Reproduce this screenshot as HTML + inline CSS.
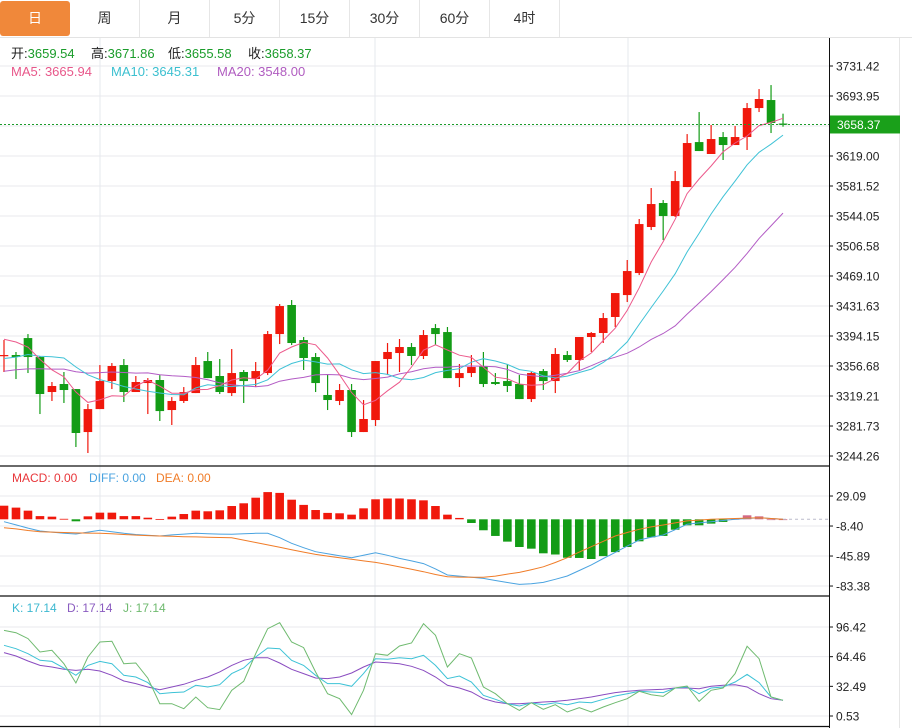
<!DOCTYPE html>
<html><head><meta charset="utf-8">
<style>
html,body{margin:0;padding:0;background:#fff;width:912px;height:728px;overflow:hidden;font-family:"Liberation Sans","Noto Sans CJK SC",sans-serif;}
#tabs{position:absolute;left:0;top:0;width:912px;height:37px;border-bottom:1px solid #e3e3e3;}
.tab{position:absolute;top:0;height:37px;width:70px;line-height:37px;text-align:center;font-size:14px;color:#333;border-right:1px solid #e6e6e6;box-sizing:border-box;}
.tab.on{background:#f0883a;color:#fff;border-radius:3px;top:1px;height:35px;line-height:35px;border-right:none;}
svg{position:absolute;left:0;top:0;}
</style></head><body>
<div id="tabs">
<div class="tab on" style="left:0">日</div>
<div class="tab" style="left:70px">周</div>
<div class="tab" style="left:140px">月</div>
<div class="tab" style="left:210px">5分</div>
<div class="tab" style="left:280px">15分</div>
<div class="tab" style="left:350px">30分</div>
<div class="tab" style="left:420px">60分</div>
<div class="tab" style="left:490px">4时</div>
</div>
<svg id="chart" width="912" height="728" viewBox="0 0 912 728"></svg>
<script>
const opens=[3369.2,3370.4,3391.6,3367.9,3324.2,3334.2,3327.9,3274.2,3302.9,3337.9,3357.9,3324.2,3335.4,3339.2,3301.7,3313,3322.9,3362.9,3344.2,3322.9,3349.2,3340.4,3347.9,3396.6,3432.9,3389.1,3367.9,3320.5,3313,3326.7,3274.2,3289.2,3365.4,3372.9,3380.4,3369.2,3404.1,3399.1,3341.6,3347.9,3356.7,3336.7,3337.9,3334.2,3315.4,3350.4,3337.9,3370.4,3364.2,3392.9,3397.9,3417.9,3445.3,3472.8,3530.3,3560.3,3544,3580.2,3636.4,3621.5,3642.7,3632.7,3642.7,3678.9,3688.9,3659.54];
const highs=[3389.2,3374.2,3396.6,3369.2,3336.7,3349.2,3327.9,3309.2,3357.9,3360.4,3365.4,3344.2,3341.6,3345.4,3317.9,3330.4,3367.9,3374.2,3365.4,3377.9,3351.7,3361.7,3400.4,3434.1,3439.1,3392.9,3372.9,3346.7,3334.2,3334.2,3314.2,3362.9,3385.4,3390.4,3385.4,3401.6,3409.1,3405.4,3359.2,3370.4,3374.2,3347.9,3359.2,3345.4,3349.2,3352.9,3379.1,3375.4,3392.9,3399.1,3422.9,3447.8,3489.1,3540.3,3579,3564,3600.2,3646.4,3673.9,3657.7,3648.9,3656.4,3685.2,3702.6,3707.6,3671.86];
const lows=[3349.2,3340.4,3347.9,3296.7,3313,3310.5,3255.5,3248,3302.9,3327.9,3311.7,3324.2,3296.7,3288,3283,3310.5,3322.9,3341.6,3321.7,3319.2,3310.5,3330.4,3345.4,3384.1,3382.9,3351.7,3324.2,3301.7,3307.9,3268,3274.2,3281.7,3345.4,3349.2,3357.9,3365.4,3382.9,3341.6,3330.4,3342.9,3330.4,3332.9,3324.2,3315.4,3311.7,3326.7,3322.9,3361.7,3351.7,3374.2,3385.4,3405.4,3436.6,3470.3,3526.5,3514,3542.8,3580.2,3625.2,3621.5,3614,3632.7,3626.5,3673.9,3647.7,3655.58];
const closes=[3370.4,3367.9,3367.9,3321.7,3331.7,3326.7,3273,3302.9,3337.9,3356.7,3324.2,3336.7,3339.2,3300.4,3313,3324.2,3357.9,3341.6,3324.2,3347.9,3337.9,3350.4,3396.6,3431.6,3385.4,3366.7,3335.4,3314.2,3326.7,3274.2,3290.5,3362.9,3374.2,3380.4,3369.2,3395.4,3396.6,3341.6,3347.9,3355.4,3334.2,3334.2,3331.7,3315.4,3347.9,3337.9,3371.7,3364.2,3392.9,3397.9,3416.6,3447.8,3475.3,3534,3559,3544,3587.7,3635.2,3625.2,3640.2,3632.7,3642.7,3678.9,3690.2,3660.2,3658.37];
const historyCloses=[3330,3345,3320,3338,3328,3340,3335,3325,3342,3337,3350,3335,3345,3338,3342,3385,3400,3398,3397];
const macdHist=[17,14.6,10.8,4,3.3,0.6,-2.5,3.7,8.3,8.3,4,4,2,0.4,3.3,6.6,10.8,10,11.2,16.6,20,27,34,33,24.5,18,11.6,8,7.5,5.8,13.7,25,26,26,25,23.7,16.6,5.8,1.7,-4.6,-13.7,-20.8,-27.9,-34.6,-36.7,-42.5,-44,-48,-48.3,-49.6,-46,-41,-34.6,-27.5,-22.5,-20.8,-13,-7.5,-7.5,-5.4,-3.3,0.5,5,3.7,0,0];
const diffVals=[-3,-7,-11,-14.6,-16,-17.5,-18.4,-16,-13.8,-15.5,-17.5,-19,-20,-20.9,-19.5,-18.5,-17.5,-18,-18.5,-18.7,-18,-17.5,-17.5,-23,-30,-35.5,-40.5,-43,-45.5,-48,-45,-41.7,-45,-48.8,-52,-55.4,-62,-69.6,-71,-72.5,-73.8,-76.5,-79,-81.3,-80.5,-78.8,-75,-70.9,-64,-57,-49,-41.3,-33.5,-25.9,-22.5,-19.6,-13,-6.3,-4.5,-3,-1.5,0,1,2,1,0];
const deaVals=[-10.5,-12,-14,-15.5,-16,-16.5,-17,-17.3,-17.5,-18,-19,-19.8,-20.4,-20.9,-21.3,-21.7,-22,-22.4,-22.7,-23,-26,-29,-32,-35,-38,-41,-43.8,-46,-48,-50,-52,-53.8,-56.5,-59.5,-62.5,-65.5,-69,-71.7,-72.2,-72.5,-72.5,-71,-68.5,-66.3,-63,-59.3,-54,-48,-41,-34.2,-27.5,-20.9,-16.5,-12.5,-9.5,-7.1,-4.5,-2,-1,0,0.5,1,1.5,2,1,0];
const kVals=[76.7,73.1,67.7,60.5,59.4,52.3,44.4,55.1,59.4,56.9,44.4,42.6,36.5,24.6,25.7,26.4,33.6,31.8,34.3,46.2,52.3,64.1,73.8,73.1,60.5,55.1,44.4,35.4,35.4,32.5,46.2,62.3,61.6,63.4,62.3,65.9,55.1,40.8,43.6,37.2,22.8,18.5,13.8,11.3,14.6,12.7,14.9,12.7,15.6,14.9,18.5,22.1,24.6,27.1,26.4,25.7,30.7,31.8,24.6,30.7,31.8,37.2,45.4,36.5,21,17.4];
const dVals=[68.8,65.2,59.8,55.1,53.3,50.8,49.7,50.8,49,44.4,38.2,35.4,31.8,28.9,31.8,34.7,39,42.6,48,55.1,60.5,63.4,63.4,57.6,50.8,46.2,41.5,40.8,42.6,46.9,53.3,58.7,58,56.9,54.1,49.7,42.6,33.6,30.7,26.4,19.2,15.6,13.8,13.8,14.6,15.6,16.3,17.4,19.2,21,23.5,25.7,27.1,28.2,28.9,29.3,30.7,30.7,30,32.5,33.6,34.3,31.8,24.6,19.2,17.4];
const jVals=[92.8,90.3,83.9,69.5,71.3,56.9,36.1,64.1,80.3,81,56.9,57.6,41.4,13.8,13.8,8.4,21,9.5,7.4,28.2,37.9,67.7,94.6,101.1,80.3,74.2,47.9,24.6,19.2,2,28.2,67.7,65.9,76,79.2,100,87.5,53.3,67.7,63,31.8,24.6,13.8,6.6,14.9,7.7,12.7,4.8,9.5,4.8,10.2,14.9,19.2,27.1,23.5,21.7,30.7,32.9,16.3,28.2,30.7,46.2,75.6,62.3,21,17.4];
const priceTicks=[3731.42,3693.95,3619.00,3581.52,3544.05,3506.58,3469.10,3431.63,3394.15,3356.68,3319.21,3281.73,3244.26];
const priceGrid=[3731.42,3693.95,3656.47,3619.00,3581.52,3544.05,3506.58,3469.10,3431.63,3394.15,3356.68,3319.21,3281.73,3244.26];
const macdTicks=[29.09,-8.40,-45.89,-83.38];
const kdjTicks=[96.42,64.46,32.49,0.53];
const lastPrice=3658.37;

const NS='http://www.w3.org/2000/svg';
const svg=document.getElementById('chart');
const X=i=>4+i*11.985;
const PY=p=>156-(p-3619)*0.8006;
const MY=v=>519.3-v*0.8003;
const KY=v=>716-(v-0.53)*0.928;
const RIGHT=829;
function mk(tag,attrs,parent){const e=document.createElementNS(NS,tag);for(const k in attrs)e.setAttribute(k,attrs[k]);(parent||svg).appendChild(e);return e;}
function txt(s,x,y,fill,size,parent){const t=mk('text',{x:x,y:y,fill:fill,'font-size':size||12,'font-family':'"Liberation Sans","Noto Sans CJK SC",sans-serif'},parent);t.textContent=s;return t;}

// grids
const grid=mk('g',{});


[100,375,628].forEach(x=>mk('line',{x1:x,x2:x,y1:38,y2:726,stroke:'#e6e8ee','stroke-width':1},grid));
priceGrid.forEach(p=>mk('line',{x1:0,x2:RIGHT,y1:PY(p),y2:PY(p),stroke:'#e8e8ee'},grid));
macdTicks.forEach(v=>mk('line',{x1:0,x2:RIGHT,y1:MY(v),y2:MY(v),stroke:'#e8e8ee'},grid));
kdjTicks.forEach(v=>mk('line',{x1:0,x2:RIGHT,y1:KY(v),y2:KY(v),stroke:'#e8e8ee'},grid));
// frame
const frame=mk('g',{});


mk('line',{x1:0,x2:RIGHT,y1:466,y2:466,stroke:'#111','stroke-width':1.2},frame);
mk('line',{x1:0,x2:RIGHT,y1:596,y2:596,stroke:'#111','stroke-width':1.2},frame);
mk('line',{x1:0,x2:RIGHT,y1:726.5,y2:726.5,stroke:'#111','stroke-width':1.2},frame);
mk('line',{x1:RIGHT+0.5,x2:RIGHT+0.5,y1:38,y2:728,stroke:'#111','stroke-width':1},frame);
mk('line',{x1:899.5,x2:899.5,y1:38,y2:728,stroke:'#e6e6e6','stroke-width':1},frame);

// moving averages
const all=historyCloses.concat(closes);
function ma(n){const out=[];for(let i=0;i<closes.length;i++){const j=i+historyCloses.length;let s=0;for(let k=j-n+1;k<=j;k++)s+=all[k];out.push(s/n);}return out;}
function poly(vals,yf,color,name,w){const pts=vals.map((v,i)=>X(i).toFixed(1)+','+yf(v).toFixed(1)).join(' ');const e=mk('polyline',{points:pts,fill:'none',stroke:color,'stroke-width':w||1});return e;}

// candles
const cg=mk('g',{});


for(let i=0;i<closes.length;i++){
  const up=closes[i]>=opens[i];const col=up?'#f0180c':'#139c16';
  const g=mk('g',{},cg);
  
  
  mk('line',{x1:X(i),x2:X(i),y1:PY(highs[i]),y2:PY(lows[i]),stroke:col,'stroke-width':1.2},g);
  const t=PY(Math.max(opens[i],closes[i])),b=PY(Math.min(opens[i],closes[i]));
  mk('rect',{x:X(i)-4.3,y:t,width:8.6,height:Math.max(1.2,b-t),fill:col},g);
}
poly(ma(20),PY,'#b35cc5','ma20-line');
poly(ma(10),PY,'#3fc2d6','ma10-line');
poly(ma(5),PY,'#ec5a8c','ma5-line');

// last price line
const lp=mk('line',{x1:0,x2:RIGHT,y1:PY(lastPrice),y2:PY(lastPrice),stroke:'#1a9c2a','stroke-dasharray':'2,2'});



// price axis
const pa=mk('g',{});


priceTicks.forEach(p=>{mk('line',{x1:RIGHT,x2:RIGHT+4,y1:PY(p),y2:PY(p),stroke:'#111'},pa);txt(p.toFixed(2),836,PY(p)+4.5,'#222',12,pa);});
const tag=mk('g',{});


mk('rect',{x:RIGHT+1,y:PY(lastPrice)-9,width:70,height:18,fill:'#1aa01a'},tag);
txt(lastPrice.toFixed(2),837,PY(lastPrice)+4.5,'#fff',12,tag);

// MACD
const mg=mk('g',{});


macdHist.forEach((v,i)=>{const y0=MY(0),y1=MY(v);const r=mk('rect',{x:X(i)-4.3,y:Math.min(y0,y1),width:8.6,height:Math.max(0.8,Math.abs(y1-y0)),fill:v>=0?(i>60?'#d36a86':'#f0180c'):'#139c16'},mg);});
mk('line',{x1:X(closes.length-1),x2:RIGHT,y1:MY(0),y2:MY(0),stroke:'#bbc','stroke-dasharray':'3,3'});
poly(diffVals,MY,'#4aa3e0','diff-line');
poly(deaVals,MY,'#f07c28','dea-line');
const ma2=mk('g',{});


macdTicks.forEach(v=>{mk('line',{x1:RIGHT,x2:RIGHT+4,y1:MY(v),y2:MY(v),stroke:'#111'},ma2);txt(v.toFixed(2),836,MY(v)+4.5,'#222',12,ma2);});

// KDJ
poly(dVals,KY,'#8a4cc0','kdj-d-line');
poly(kVals,KY,'#3cc2d6','kdj-k-line');
poly(jVals,KY,'#6fba6f','kdj-j-line');
const ka=mk('g',{});


kdjTicks.forEach(v=>{mk('line',{x1:RIGHT,x2:RIGHT+4,y1:KY(v),y2:KY(v),stroke:'#111'},ka);txt(v.toFixed(2),836,KY(v)+4.5,'#222',12,ka);});

// legends
const lg=mk('g',{});


[['开:',11,'3659.54'],['高:',91,'3671.86'],['低:',168,'3655.58'],['收:',248,'3658.37']].forEach(a=>{const t=txt('',a[1],58,'#222',13,lg);const s1=mk('tspan',{},t);s1.textContent=a[0];const s2=mk('tspan',{fill:'#1a9c2a'},t);s2.textContent=a[2];});
txt('MA5:  3665.94',11,76,'#e8578a',13,lg);
txt('MA10:  3645.31',111,76,'#3cc0d0',13,lg);
txt('MA20:  3548.00',217,76,'#b05cc0',13,lg);
const ml=mk('g',{});


txt('MACD: 0.00',12,482,'#e8363a',12,ml);
txt('DIFF: 0.00',89,482,'#4aa3e0',12,ml);
txt('DEA: 0.00',156,482,'#f07c28',12,ml);
const kl=mk('g',{});


txt('K: 17.14',12,612,'#3cb8d0',12,kl);
txt('D: 17.14',67,612,'#8a5cc0',12,kl);
txt('J: 17.14',123,612,'#6fba6f',12,kl);
</script>
</body></html>
